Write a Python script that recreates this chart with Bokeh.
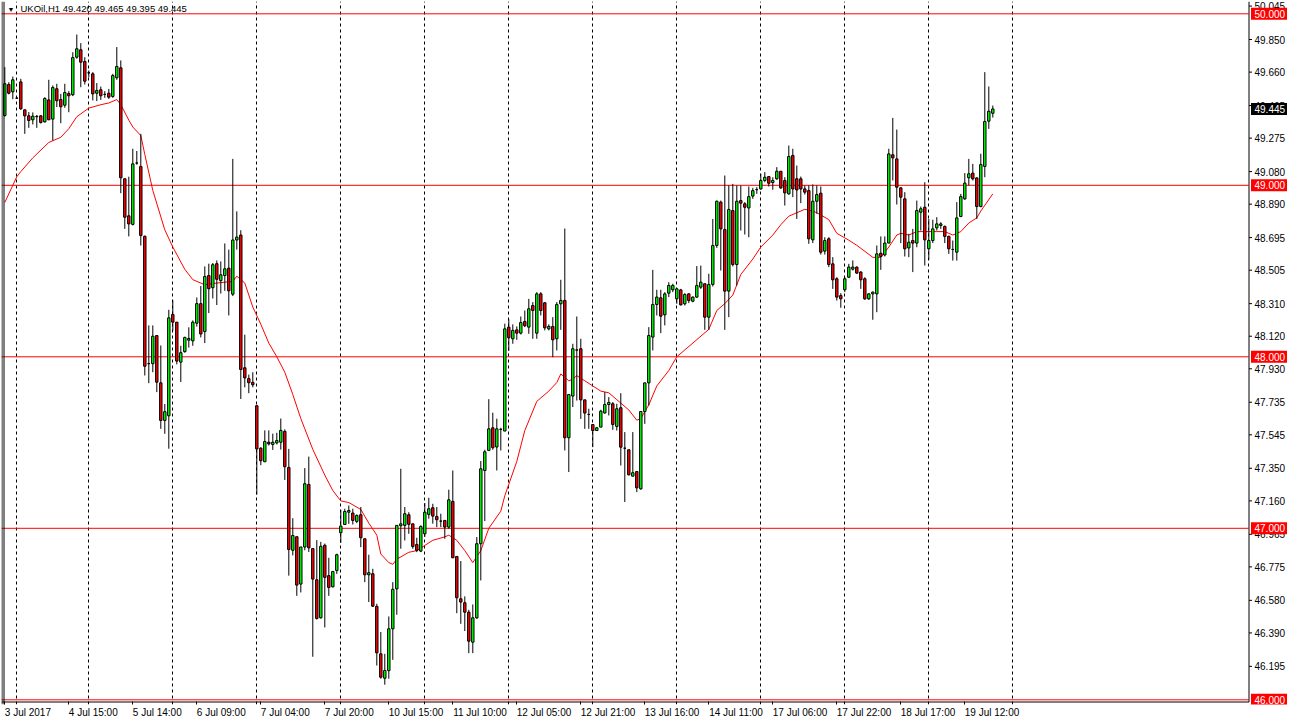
from bokeh.plotting import figure
from bokeh.models import Range1d, FixedTicker, Span, Label, ColumnDataSource
from bokeh.core.properties import value
from bokeh.embed import file_html
from bokeh.resources import INLINE

symbol = "UKOil,H1"

opens = [
    49.407, 49.588, 49.545, 49.508, 49.603, 49.440, 49.405, 49.382, 49.400, 49.405,
    49.370, 49.498, 49.386, 49.563, 49.500, 49.467, 49.535, 49.528, 49.747, 49.790,
    49.722, 49.656, 49.650, 49.537, 49.557, 49.530, 49.537, 49.518, 49.627, 49.685,
    49.038, 48.822, 48.772, 49.130, 49.110, 48.703, 47.960, 47.960, 48.124, 47.848,
    47.629, 47.656, 48.247, 48.202, 47.969, 48.030, 48.097, 48.093, 48.196, 48.310,
    48.147, 48.474, 48.403, 48.543, 48.444, 48.474, 48.517, 48.365, 48.681, 48.710,
    47.936, 47.873, 47.851, 47.715, 47.467, 47.388, 47.502, 47.489, 47.498, 47.502,
    47.565, 47.355, 46.872, 46.951, 46.675, 46.891, 47.256, 46.882, 46.700, 46.478,
    46.901, 46.724, 46.659, 46.754, 46.974, 47.022, 47.094, 47.089, 47.040, 47.079,
    46.939, 46.729, 46.735, 46.545, 46.268, 46.126, 46.170, 46.414, 46.647, 47.015,
    47.017, 47.079, 47.026, 46.906, 46.867, 46.968, 47.081, 47.120, 47.069, 47.042,
    47.046, 47.007, 47.157, 46.836, 46.589, 46.566, 46.511, 46.336, 46.478, 46.910,
    47.337, 47.454, 47.586, 47.474, 47.577, 47.567, 48.173, 48.105, 48.157, 48.138,
    48.206, 48.173, 48.299, 48.138, 48.367, 48.315, 48.163, 48.177, 48.105, 48.309,
    48.329, 47.528, 47.771, 48.039, 48.047, 47.749, 47.664, 47.605, 47.570, 47.590,
    47.673, 47.722, 47.726, 47.594, 47.703, 47.467, 47.458, 47.304, 47.331, 47.230,
    47.681, 47.848, 48.115, 48.305, 48.344, 48.245, 48.371, 48.391, 48.338, 48.390,
    48.309, 48.367, 48.324, 48.348, 48.406, 48.426, 48.231, 48.422, 48.649, 48.902,
    48.742, 48.383, 48.853, 48.538, 48.911, 48.892, 48.868, 48.937, 48.975, 48.979,
    49.028, 49.051, 49.016, 49.038, 49.082, 49.028, 48.950, 49.174, 49.038, 49.038,
    48.979, 48.969, 48.682, 48.907, 48.954, 48.616, 48.688, 48.542, 48.455, 48.357,
    48.391, 48.464, 48.511, 48.523, 48.494, 48.455, 48.338, 48.367, 48.367, 48.604,
    48.594, 48.663, 49.178, 49.154, 48.985, 48.921, 48.635, 48.678, 48.663, 48.843,
    48.872, 48.630, 48.678, 48.752, 48.766, 48.760, 48.702, 48.626, 48.610, 48.818,
    48.921, 49.044, 49.071, 49.043, 48.876, 49.110, 49.374, 49.420,
]

highs = [
    49.689, 49.601, 49.634, 49.512, 49.621, 49.440, 49.427, 49.425, 49.410, 49.410,
    49.514, 49.615, 49.582, 49.592, 49.533, 49.592, 49.549, 49.776, 49.879, 49.829,
    49.747, 49.670, 49.660, 49.596, 49.576, 49.549, 49.562, 49.650, 49.806, 49.728,
    49.040, 49.050, 49.213, 49.200, 49.300, 48.707, 48.183, 48.183, 48.125, 48.066,
    47.725, 48.274, 48.330, 48.202, 48.064, 48.117, 48.172, 48.212, 48.346, 48.413,
    48.527, 48.543, 48.547, 48.562, 48.556, 48.661, 48.625, 49.154, 48.848, 48.738,
    48.129, 47.896, 47.910, 47.715, 47.473, 47.571, 47.571, 47.552, 47.557, 47.640,
    47.577, 47.463, 47.059, 46.951, 46.891, 47.351, 47.418, 46.882, 46.931, 46.921,
    46.911, 46.828, 46.748, 46.852, 47.108, 47.114, 47.133, 47.114, 47.081, 47.124,
    46.939, 46.846, 46.764, 46.560, 46.395, 46.268, 46.486, 46.686, 47.017, 47.347,
    47.124, 47.094, 47.026, 46.945, 47.017, 47.147, 47.178, 47.143, 47.124, 47.085,
    47.046, 47.225, 47.337, 46.836, 46.809, 46.603, 46.525, 46.556, 46.949, 47.392,
    47.458, 47.753, 47.674, 47.639, 47.586, 48.193, 48.219, 48.189, 48.177, 48.235,
    48.270, 48.338, 48.319, 48.377, 48.377, 48.319, 48.189, 48.231, 48.319, 48.449,
    48.748, 47.780, 48.076, 48.235, 48.105, 47.749, 47.697, 47.605, 47.590, 47.691,
    47.794, 47.765, 47.736, 47.726, 47.788, 47.561, 47.458, 47.561, 47.331, 47.681,
    47.848, 48.173, 48.507, 48.391, 48.391, 48.377, 48.435, 48.426, 48.402, 48.396,
    48.371, 48.371, 48.352, 48.529, 48.532, 48.426, 48.484, 48.804, 48.911, 48.911,
    49.057, 48.999, 49.008, 48.999, 48.999, 48.902, 48.993, 48.985, 48.989, 49.067,
    49.077, 49.051, 49.047, 49.106, 49.082, 49.047, 49.232, 49.213, 49.115, 49.051,
    48.999, 48.999, 49.005, 48.999, 48.993, 48.697, 48.697, 48.581, 48.464, 48.371,
    48.464, 48.542, 48.562, 48.527, 48.500, 48.464, 48.371, 48.381, 48.649, 48.702,
    48.702, 49.213, 49.393, 49.325, 48.989, 48.960, 48.717, 48.746, 48.911, 48.876,
    49.018, 48.804, 48.799, 48.814, 48.785, 48.766, 48.707, 48.678, 48.902, 48.950,
    49.071, 49.154, 49.125, 49.047, 49.184, 49.660, 49.576, 49.465,
]

lows = [
    49.400, 49.530, 49.502, 49.504, 49.440, 49.300, 49.335, 49.355, 49.335, 49.360,
    49.366, 49.380, 49.261, 49.456, 49.362, 49.452, 49.426, 49.520, 49.738, 49.572,
    49.588, 49.630, 49.495, 49.491, 49.498, 49.510, 49.504, 49.510, 49.615, 48.954,
    48.746, 48.702, 48.766, 49.120, 48.649, 47.891, 47.846, 47.910, 47.794, 47.580,
    47.551, 47.464, 48.153, 47.956, 47.853, 48.024, 48.054, 48.064, 48.176, 48.113,
    48.080, 48.255, 48.340, 48.302, 48.369, 48.385, 48.241, 48.354, 48.625, 47.754,
    47.822, 47.788, 47.822, 47.197, 47.368, 47.388, 47.483, 47.457, 47.489, 47.459,
    47.282, 46.724, 46.842, 46.606, 46.626, 46.872, 46.862, 46.251, 46.468, 46.474,
    46.422, 46.606, 46.655, 46.734, 46.915, 47.022, 47.026, 47.022, 47.030, 46.890,
    46.686, 46.570, 46.541, 46.200, 46.123, 46.088, 46.123, 46.233, 46.496, 46.881,
    46.929, 46.968, 46.881, 46.861, 46.861, 46.949, 47.056, 47.027, 47.007, 47.007,
    46.939, 46.997, 46.828, 46.505, 46.443, 46.401, 46.272, 46.272, 46.472, 46.696,
    47.042, 47.454, 47.458, 47.337, 47.454, 47.567, 48.035, 48.076, 48.099, 48.130,
    48.173, 48.134, 48.105, 48.105, 48.241, 48.154, 48.154, 47.998, 48.037, 48.157,
    47.454, 47.328, 47.707, 47.745, 47.638, 47.580, 47.580, 47.473, 47.570, 47.590,
    47.668, 47.658, 47.574, 47.570, 47.366, 47.153, 47.308, 47.304, 47.211, 47.225,
    47.609, 47.716, 48.037, 48.241, 48.138, 48.183, 48.348, 48.377, 48.309, 48.299,
    48.299, 48.313, 48.318, 48.344, 48.396, 48.157, 48.157, 48.410, 48.635, 48.503,
    48.157, 48.231, 48.527, 48.416, 48.736, 48.713, 48.697, 48.921, 48.950, 48.974,
    49.018, 48.993, 48.974, 49.032, 48.979, 48.882, 48.946, 48.931, 48.804, 48.896,
    48.946, 48.659, 48.663, 48.834, 48.596, 48.596, 48.523, 48.396, 48.328, 48.286,
    48.377, 48.460, 48.503, 48.484, 48.396, 48.332, 48.332, 48.216, 48.260, 48.507,
    48.585, 48.663, 49.028, 48.888, 48.663, 48.585, 48.581, 48.494, 48.639, 48.736,
    48.532, 48.565, 48.663, 48.736, 48.746, 48.663, 48.600, 48.561, 48.561, 48.814,
    48.915, 48.999, 49.028, 48.804, 48.872, 49.047, 49.329, 49.395,
]

closes = [
    49.592, 49.537, 49.615, 49.508, 49.446, 49.405, 49.378, 49.403, 49.402, 49.366,
    49.506, 49.382, 49.570, 49.493, 49.458, 49.541, 49.522, 49.745, 49.796, 49.718,
    49.607, 49.656, 49.533, 49.553, 49.522, 49.530, 49.514, 49.640, 49.693, 49.044,
    48.814, 48.775, 49.125, 49.130, 48.707, 47.945, 47.960, 48.120, 47.852, 47.629,
    47.680, 48.227, 48.202, 47.975, 48.024, 48.113, 48.107, 48.202, 48.310, 48.133,
    48.468, 48.397, 48.537, 48.452, 48.478, 48.513, 48.385, 48.681, 48.698, 47.926,
    47.877, 47.849, 47.837, 47.463, 47.394, 47.506, 47.492, 47.502, 47.512, 47.571,
    47.359, 46.876, 46.958, 46.669, 46.891, 47.260, 46.886, 46.704, 46.474, 46.895,
    46.714, 46.655, 46.748, 46.846, 47.013, 47.098, 47.104, 47.046, 47.075, 46.945,
    46.729, 46.741, 46.546, 46.274, 46.132, 46.171, 46.414, 46.644, 47.017, 47.026,
    47.085, 47.023, 46.894, 46.871, 47.011, 47.094, 47.114, 47.071, 47.050, 47.042,
    47.007, 47.166, 46.828, 46.595, 46.570, 46.511, 46.342, 46.478, 46.910, 47.347,
    47.446, 47.580, 47.470, 47.580, 47.577, 48.163, 48.111, 48.154, 48.138, 48.200,
    48.181, 48.280, 48.270, 48.367, 48.270, 48.169, 48.177, 48.099, 48.305, 48.329,
    47.528, 47.780, 48.047, 48.040, 47.749, 47.672, 47.664, 47.570, 47.586, 47.683,
    47.722, 47.734, 47.605, 47.697, 47.473, 47.467, 47.312, 47.324, 47.236, 47.681,
    47.848, 48.124, 48.305, 48.348, 48.237, 48.367, 48.416, 48.416, 48.396, 48.303,
    48.363, 48.328, 48.348, 48.416, 48.435, 48.231, 48.422, 48.649, 48.907, 48.746,
    48.383, 48.859, 48.538, 48.907, 48.896, 48.872, 48.934, 48.969, 48.975, 49.028,
    49.047, 49.012, 49.028, 49.082, 48.985, 48.956, 49.168, 48.979, 48.973, 48.979,
    48.960, 48.688, 48.907, 48.946, 48.610, 48.678, 48.538, 48.449, 48.348, 48.338,
    48.455, 48.523, 48.523, 48.488, 48.449, 48.338, 48.367, 48.377, 48.600, 48.585,
    48.663, 49.183, 49.160, 48.989, 48.931, 48.630, 48.668, 48.663, 48.853, 48.863,
    48.682, 48.678, 48.746, 48.775, 48.775, 48.702, 48.630, 48.626, 48.810, 48.934,
    49.013, 49.067, 49.038, 48.876, 49.121, 49.372, 49.432, 49.445,
]

# moving average (red line), read at selected bars
ma_bars = [0, 3, 4, 7, 11, 14, 16, 18, 21, 24, 26, 28, 29, 31, 32, 34, 35, 37, 40, 42,
           45, 47, 50, 53, 57, 58, 60, 62, 64, 66, 68, 70, 72, 74, 75, 77, 80, 82, 84, 86,
           89, 91, 93, 94, 96, 97, 98, 101, 103, 105, 107, 110, 111, 113, 115, 117, 119, 121, 124, 125,
           128, 130, 133, 136, 138, 139, 141, 142, 143, 145, 147, 149, 151, 153, 156, 158, 159, 161, 163, 166,
           168, 176, 178, 180, 182, 184, 187, 189, 192, 194, 196, 198, 200, 202, 203, 206, 208, 211, 213, 217,
           219, 221, 223, 224, 226, 228, 231, 233, 235, 237, 239, 241, 243, 244, 247]
ma_values = [48.90, 49.05, 49.08, 49.16, 49.25, 49.28, 49.33, 49.40, 49.45, 49.47, 49.48, 49.50, 49.47, 49.38, 49.34, 49.29, 49.18, 48.97, 48.74, 48.64,
             48.51, 48.45, 48.42, 48.43, 48.44, 48.47, 48.43, 48.29, 48.19, 48.08, 48.00, 47.91, 47.78, 47.64, 47.58, 47.46, 47.31, 47.22, 47.16, 47.15,
             47.11, 47.03, 46.96, 46.85, 46.80, 46.79, 46.82, 46.86, 46.87, 46.90, 46.93, 46.95, 46.96, 46.93, 46.87, 46.80, 46.87, 47.00, 47.10, 47.19,
             47.39, 47.57, 47.74, 47.80, 47.85, 47.90, 47.86, 47.87, 47.89, 47.86, 47.83, 47.80, 47.79, 47.75, 47.69, 47.63, 47.64, 47.72, 47.83, 47.92,
             48.00, 48.16, 48.27, 48.31, 48.36, 48.48, 48.57, 48.64, 48.71, 48.77, 48.82, 48.84, 48.86, 48.85, 48.84, 48.80, 48.72, 48.68, 48.65, 48.58,
             48.58, 48.64, 48.71, 48.72, 48.71, 48.73, 48.73, 48.73, 48.73, 48.71, 48.73, 48.78, 48.81, 48.85, 48.95]

day_start_bars = [3, 21, 42, 63, 84, 105, 126, 147, 168, 189, 210, 231, 252]
time_label_bars = [0, 16, 32, 48, 64, 80, 96, 112, 128, 144, 160, 176, 192, 208, 224, 240]
time_labels = ["3 Jul 2017", "4 Jul 15:00", "5 Jul 14:00", "6 Jul 09:00", "7 Jul 04:00",
               "7 Jul 20:00", "10 Jul 15:00", "11 Jul 10:00", "12 Jul 05:00", "12 Jul 21:00",
               "13 Jul 16:00", "14 Jul 11:00", "17 Jul 06:00", "17 Jul 22:00", "18 Jul 17:00",
               "19 Jul 12:00"]
price_ticks = [50.045, 49.850, 49.660, 49.465, 49.275, 49.080, 48.890, 48.695, 48.505, 48.310,
               48.120, 47.930, 47.735, 47.545, 47.350, 47.160, 46.965, 46.775, 46.580, 46.390,
               46.195]
level_lines = [50.0, 49.0, 48.0, 47.0, 46.0]

# ---------------- layout / style ----------------
W, H = 1289, 725
BORDER_L, BORDER_T, BORDER_R, BORDER_B = 1, 1, 0, 21
PX_PER_BAR = 4.0          # horizontal pixels per bar
PX_PER_UNIT = 171.5       # vertical pixels per 1.000 of price
SCALE_STRIP = 40          # width of the price-scale strip on the right (px)
BOTTOM_GAP = 3            # px between chart bottom border and frame bottom
X_START = (BORDER_L - 4.3) / PX_PER_BAR
X_END = X_START + (W - BORDER_L - BORDER_R) / PX_PER_BAR
AXIS_X = X_START + (W - BORDER_L - BORDER_R - SCALE_STRIP - 0.5) / PX_PER_BAR
Y_START = 46.0 - (1.7 + BOTTOM_GAP) / PX_PER_UNIT
Y_END = Y_START + (H - BORDER_T - BORDER_B) / PX_PER_UNIT
Y_BORDER = Y_START + (BOTTOM_GAP - 0.5) / PX_PER_UNIT
FONT = "Liberation Sans"
FS = 10
BULL = "#00FF00"
BEAR = "#FF0000"

def px(n):
    return n / PX_PER_BAR

bars = list(range(len(opens)))
src = ColumnDataSource(dict(
    x=bars, o=opens, h=highs, l=lows, c=closes,
    top=[max(o, c) for o, c in zip(opens, closes)],
    bottom=[min(o, c) for o, c in zip(opens, closes)],
    color=[BULL if c >= o else BEAR for o, c in zip(opens, closes)],
))

p = figure(width=W, height=H, x_range=Range1d(X_START, X_END), y_range=Range1d(Y_START, Y_END),
           output_backend="svg", toolbar_location=None, y_axis_location=None,
           min_border_left=BORDER_L, min_border_top=BORDER_T, min_border_right=BORDER_R,
           min_border_bottom=BORDER_B, background_fill_color="white", border_fill_color="white")
p.outline_line_color = None

# grid: vertical dashed day separators only
p.ygrid.visible = False
p.xgrid.ticker = FixedTicker(ticks=day_start_bars)
p.xgrid.grid_line_color = "black"
p.xgrid.grid_line_dash = "3 3"
p.xgrid.grid_line_width = 1

# bottom time axis: tick marks at the bars (drawn upward to the chart border),
# labels starting at the tick
CW = {" ": 0.278, ":": 0.278, "J": 0.5, "u": 0.556, "l": 0.222}
def text_px(s):
    return sum(CW.get(ch, 0.556) for ch in s) * FS

label_centers = [round(b + px(text_px(t) / 2.0), 3) for b, t in zip(time_label_bars, time_labels)]
xa = p.xaxis[0]
xa.ticker = FixedTicker(ticks=label_centers, minor_ticks=time_label_bars)
xa.major_label_overrides = {c: t for c, t in zip(label_centers, time_labels)}
xa.major_tick_out = 0
xa.major_tick_in = 0
xa.minor_tick_out = 0
xa.minor_tick_in = BOTTOM_GAP
xa.minor_tick_line_color = "black"
xa.major_label_standoff = 2
xa.axis_line_color = None
xa.major_label_text_font = FONT
xa.major_label_text_font_size = f"{FS}px"
xa.major_label_text_color = "black"

# window borders on the left and the price-scale line on the right
for off in (0.5, 2.5):
    p.add_layout(Span(location=X_START + px(off), dimension="height", line_color="black", line_width=1))
p.segment(x0=[AXIS_X], x1=[AXIS_X], y0=[Y_BORDER], y1=[Y_END], line_color="black", line_width=1)
# chart bottom border
p.segment(x0=[X_START], x1=[AXIS_X], y0=[Y_BORDER], y1=[Y_BORDER], line_color="black", line_width=1)

# horizontal level lines (stop at the price scale)
p.segment(x0=[X_START] * len(level_lines), x1=[AXIS_X] * len(level_lines),
          y0=level_lines, y1=level_lines, line_color="#FF0000", line_width=1)

# moving average
p.line(ma_bars, ma_values, line_color="#FF0000", line_width=1)

# candles
p.segment(x0="x", y0="l", x1="x", y1="h", source=src, line_color="black", line_width=1)
p.vbar(x="x", width=0.6, top="top", bottom="bottom", source=src,
       fill_color="color", line_color="black", line_width=1)

# price scale: ticks and labels
n = len(price_ticks)
p.segment(x0=[AXIS_X] * n, x1=[AXIS_X + px(3)] * n, y0=price_ticks, y1=price_ticks,
          line_color="black", line_width=1)
p.text(x=[AXIS_X + px(5.5)] * n, y=price_ticks, text=[f"{t:.3f}" for t in price_ticks],
       text_align="left", text_baseline="middle", text_font=value(FONT),
       text_font_size=f"{FS}px", text_color="black")

# price boxes on the scale: level lines (red) and last price (black)
box_prices = level_lines + [closes[-1]]
box_colors = ["#FF0000"] * len(level_lines) + ["black"]
m = len(box_prices)
p.rect(x=[AXIS_X + px(2 + 18)] * m, y=box_prices, width=36, height=12,
       width_units="screen", height_units="screen", fill_color=box_colors, line_color=None)
p.text(x=[AXIS_X + px(5.5)] * m, y=box_prices, text=[f"{v:.3f}" for v in box_prices],
       text_align="left", text_baseline="middle", text_font=value(FONT),
       text_font_size=f"{FS}px", text_color="white")

# header text
p.add_layout(Label(x=X_START + px(6), y=Y_END, text="\u25BC", text_baseline="top", text_align="left",
                   text_font=FONT, text_font_size="7px", text_color="black", y_offset=-4))
p.add_layout(Label(x=X_START + px(19), y=Y_END,
                   text=f"{symbol}  {opens[-1]:.3f} {highs[-1]:.3f} {lows[-1]:.3f} {closes[-1]:.3f}",
                   text_baseline="top", text_align="left", text_font=FONT,
                   text_font_size="9.5px", text_color="black", y_offset=-1))

open("out.html", "w").write(file_html(p, INLINE))
